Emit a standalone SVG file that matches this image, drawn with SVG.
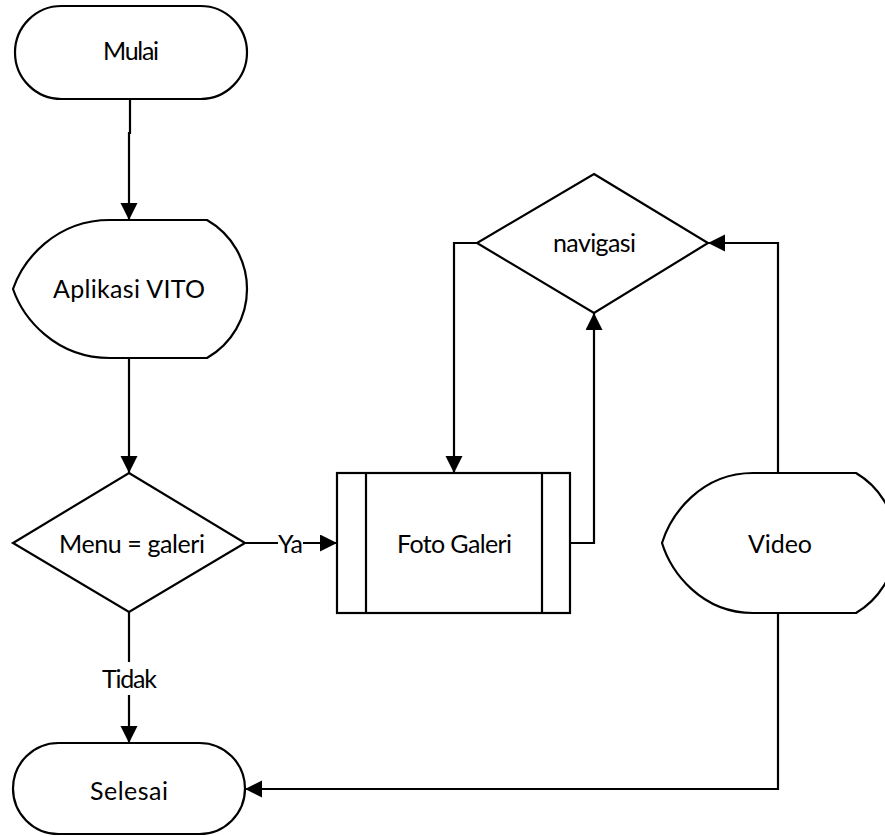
<svg xmlns="http://www.w3.org/2000/svg" width="885" height="836" viewBox="0 0 885 836">
  <defs>
    <marker id="arrow" markerUnits="userSpaceOnUse" markerWidth="18" markerHeight="18" refX="17" refY="8.5" orient="auto">
      <path d="M0,0 L17,8.5 L0,17 Z" fill="#000"/>
    </marker>
  </defs>
  <style>
    .shape { fill: #fff; stroke: #000; stroke-width: 2.2; }
    .line { fill: none; stroke: #000; stroke-width: 2.2; }
    .flow { fill: none; stroke: #000; stroke-width: 2.2; marker-end: url(#arrow); }
    text { font-family: "Lato", "Open Sans", "Liberation Sans", sans-serif; font-size: 25px; fill: #000; text-anchor: middle; }
  </style>

  <rect x="0" y="0" width="885" height="836" fill="#fff"/>

  <!-- connectors -->
  <g id="connectors">
    <path class="flow" d="M130,99 V133 H129 V220"/>
    <path class="flow" d="M129,358 V473"/>
    <path class="flow" d="M245,543 H278 M303,543 H337"/>
    <path class="flow" d="M129,612 V662 M129,695 V743"/>
    <path class="flow" d="M570,543 H594 V313"/>
    <path class="flow" d="M477,243 H454 V473"/>
    <path class="flow" d="M778,473 V243 H708"/>
    <path class="flow" d="M778,613 V789 H245"/>
    <text x="290.5" y="553" textLength="25">Ya</text>
    <text x="129.5" y="688" textLength="55">Tidak</text>
  </g>

  <!-- start terminator -->
  <g id="mulai">
    <rect class="shape" x="15" y="6" width="232" height="93" rx="46.5" ry="46.5"/>
    <text x="131" y="60" textLength="56">Mulai</text>
  </g>

  <!-- display: app -->
  <g id="aplikasi">
    <path class="shape" d="M110,220 H207 A79.5,79.5 0 0 1 207,358 H110 C55,358 23,318 13,289 C23,260 55,220 110,220 Z"/>
    <text x="129" y="298" textLength="152">Aplikasi VITO</text>
  </g>

  <!-- decision: menu -->
  <g id="menu">
    <polygon class="shape" points="129,473 245,543 129,612 13,543"/>
    <text x="132" y="553" textLength="146">Menu = galeri</text>
  </g>

  <!-- predefined process: gallery -->
  <g id="foto-galeri">
    <rect class="shape" x="337" y="473" width="233" height="140"/>
    <path class="line" d="M366,473 V613 M542,473 V613"/>
    <text x="454.5" y="553" textLength="115">Foto Galeri</text>
  </g>

  <!-- decision: navigation -->
  <g id="navigasi">
    <polygon class="shape" points="594,174 708,243 594,313 477,243"/>
    <text x="594.5" y="252" textLength="83">navigasi</text>
  </g>

  <!-- display: video -->
  <g id="video">
    <path class="shape" d="M753,473 H856 A81.25,81.25 0 0 1 856,613 H753 C701,613 671,572 662,543 C671,514 701,473 753,473 Z"/>
    <text x="780" y="553" textLength="64">Video</text>
  </g>

  <!-- end terminator -->
  <g id="selesai">
    <rect class="shape" x="13" y="743" width="232" height="91" rx="45.5" ry="45.5"/>
    <text x="129" y="800" textLength="78">Selesai</text>
  </g>
</svg>
